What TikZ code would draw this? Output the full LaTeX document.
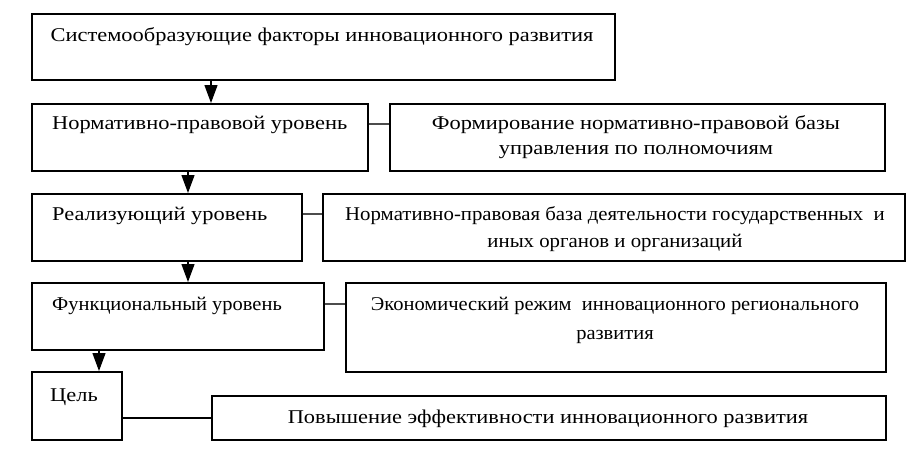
\documentclass[tikz,border=0pt]{standalone}
\usepackage{fontspec}
\setmainfont[FakeStretch=1.15]{Liberation Serif}
\newfontfamily\narrowa[FakeStretch=1.067]{Liberation Serif}
\newfontfamily\narrowb[FakeStretch=1.05]{Liberation Serif}
\usetikzlibrary{arrows.meta}
\begin{document}
\begin{tikzpicture}[x=1pt,y=-1pt,
 box/.style={draw,line width=1.5pt,inner sep=0pt,anchor=north west},
 txt/.style={inner sep=0pt,font=\fontsize{19.5}{23}\selectfont},
 link/.style={line width=2.5pt,draw=black!70},
 flow/.style={line width=1.3pt,-{Triangle[width=13pt,length=18pt]}}]
\useasboundingbox (0,0) rectangle (922,448);
\fill[white] (0,0) rectangle (922,448);
% boxes
\node[box,minimum width=583pt,minimum height=66pt] (b1) at (31,13) {};
\node[box,minimum width=336pt,minimum height=67pt] (b2) at (31,103) {};
\node[box,minimum width=495pt,minimum height=67pt] (b2r) at (389,103) {};
\node[box,minimum width=270pt,minimum height=67pt] (b3) at (31,193) {};
\node[box,minimum width=582pt,minimum height=67pt] (b3r) at (322,193) {};
\node[box,minimum width=292pt,minimum height=67pt] (b4) at (31,282) {};
\node[box,minimum width=540pt,minimum height=89pt] (b4r) at (345,282) {};
\node[box,minimum width=90pt,minimum height=68pt] (b5) at (31,371) {};
\node[box,minimum width=674pt,minimum height=44pt] (b5r) at (211,395) {};
% texts
\node[txt,anchor=base] (t1) at (322,41) {Системообразующие факторы инновационного развития};
\node[txt,anchor=base west] (t2) at (52,129) {Нормативно-правовой уровень};
\node[txt,anchor=base] (t2a) at (636,129) {Формирование нормативно-правовой базы};
\node[txt,anchor=base] (t2b) at (636,154) {управления по полномочиям};
\node[txt,anchor=base west] (t3) at (52,220) {Реализующий уровень};
\node[txt,anchor=base] (t3a) at (615,220) {\narrowa Нормативно-правовая база деятельности государственных\ \ и};
\node[txt,anchor=base] (t3b) at (615,247) {\narrowa иных органов и организаций};
\node[txt,anchor=base west] (t4) at (52,310) {\narrowb Функциональный уровень};
\node[txt,anchor=base] (t4a) at (615,310) {\narrowb Экономический режим\ \ инновационного регионального};
\node[txt,anchor=base] (t4b) at (615,339) {\narrowb развития};
\node[txt,anchor=base west] (t5) at (50,401) {Цель};
\node[txt,anchor=base] (t5r) at (548,423) {Повышение эффективности инновационного развития};
% arrows
\draw[flow] ([xshift=180pt]b1.south west) -- ([xshift=180pt]b1.south west |- b2.north);
\draw[flow] ([xshift=157pt]b2.south west) -- ([xshift=157pt]b2.south west |- b3.north);
\draw[flow] ([xshift=157pt]b3.south west) -- ([xshift=157pt]b3.south west |- b4.north);
\draw[flow] ([xshift=68pt]b4.south west) -- ([xshift=68pt]b4.south west |- b5.north);
% links
\draw[link] ([yshift=-21pt]b2.north east) -- ([yshift=-21pt]b2.north east -| b2r.west);
\draw[link] ([yshift=-21pt]b3.north east) -- ([yshift=-21pt]b3.north east -| b3r.west);
\draw[link] ([yshift=-22pt]b4.north east) -- ([yshift=-22pt]b4.north east -| b4r.west);
\draw[line width=2pt] (b5.east |- b5r.west) -- (b5r.west);
\end{tikzpicture}
\end{document}
